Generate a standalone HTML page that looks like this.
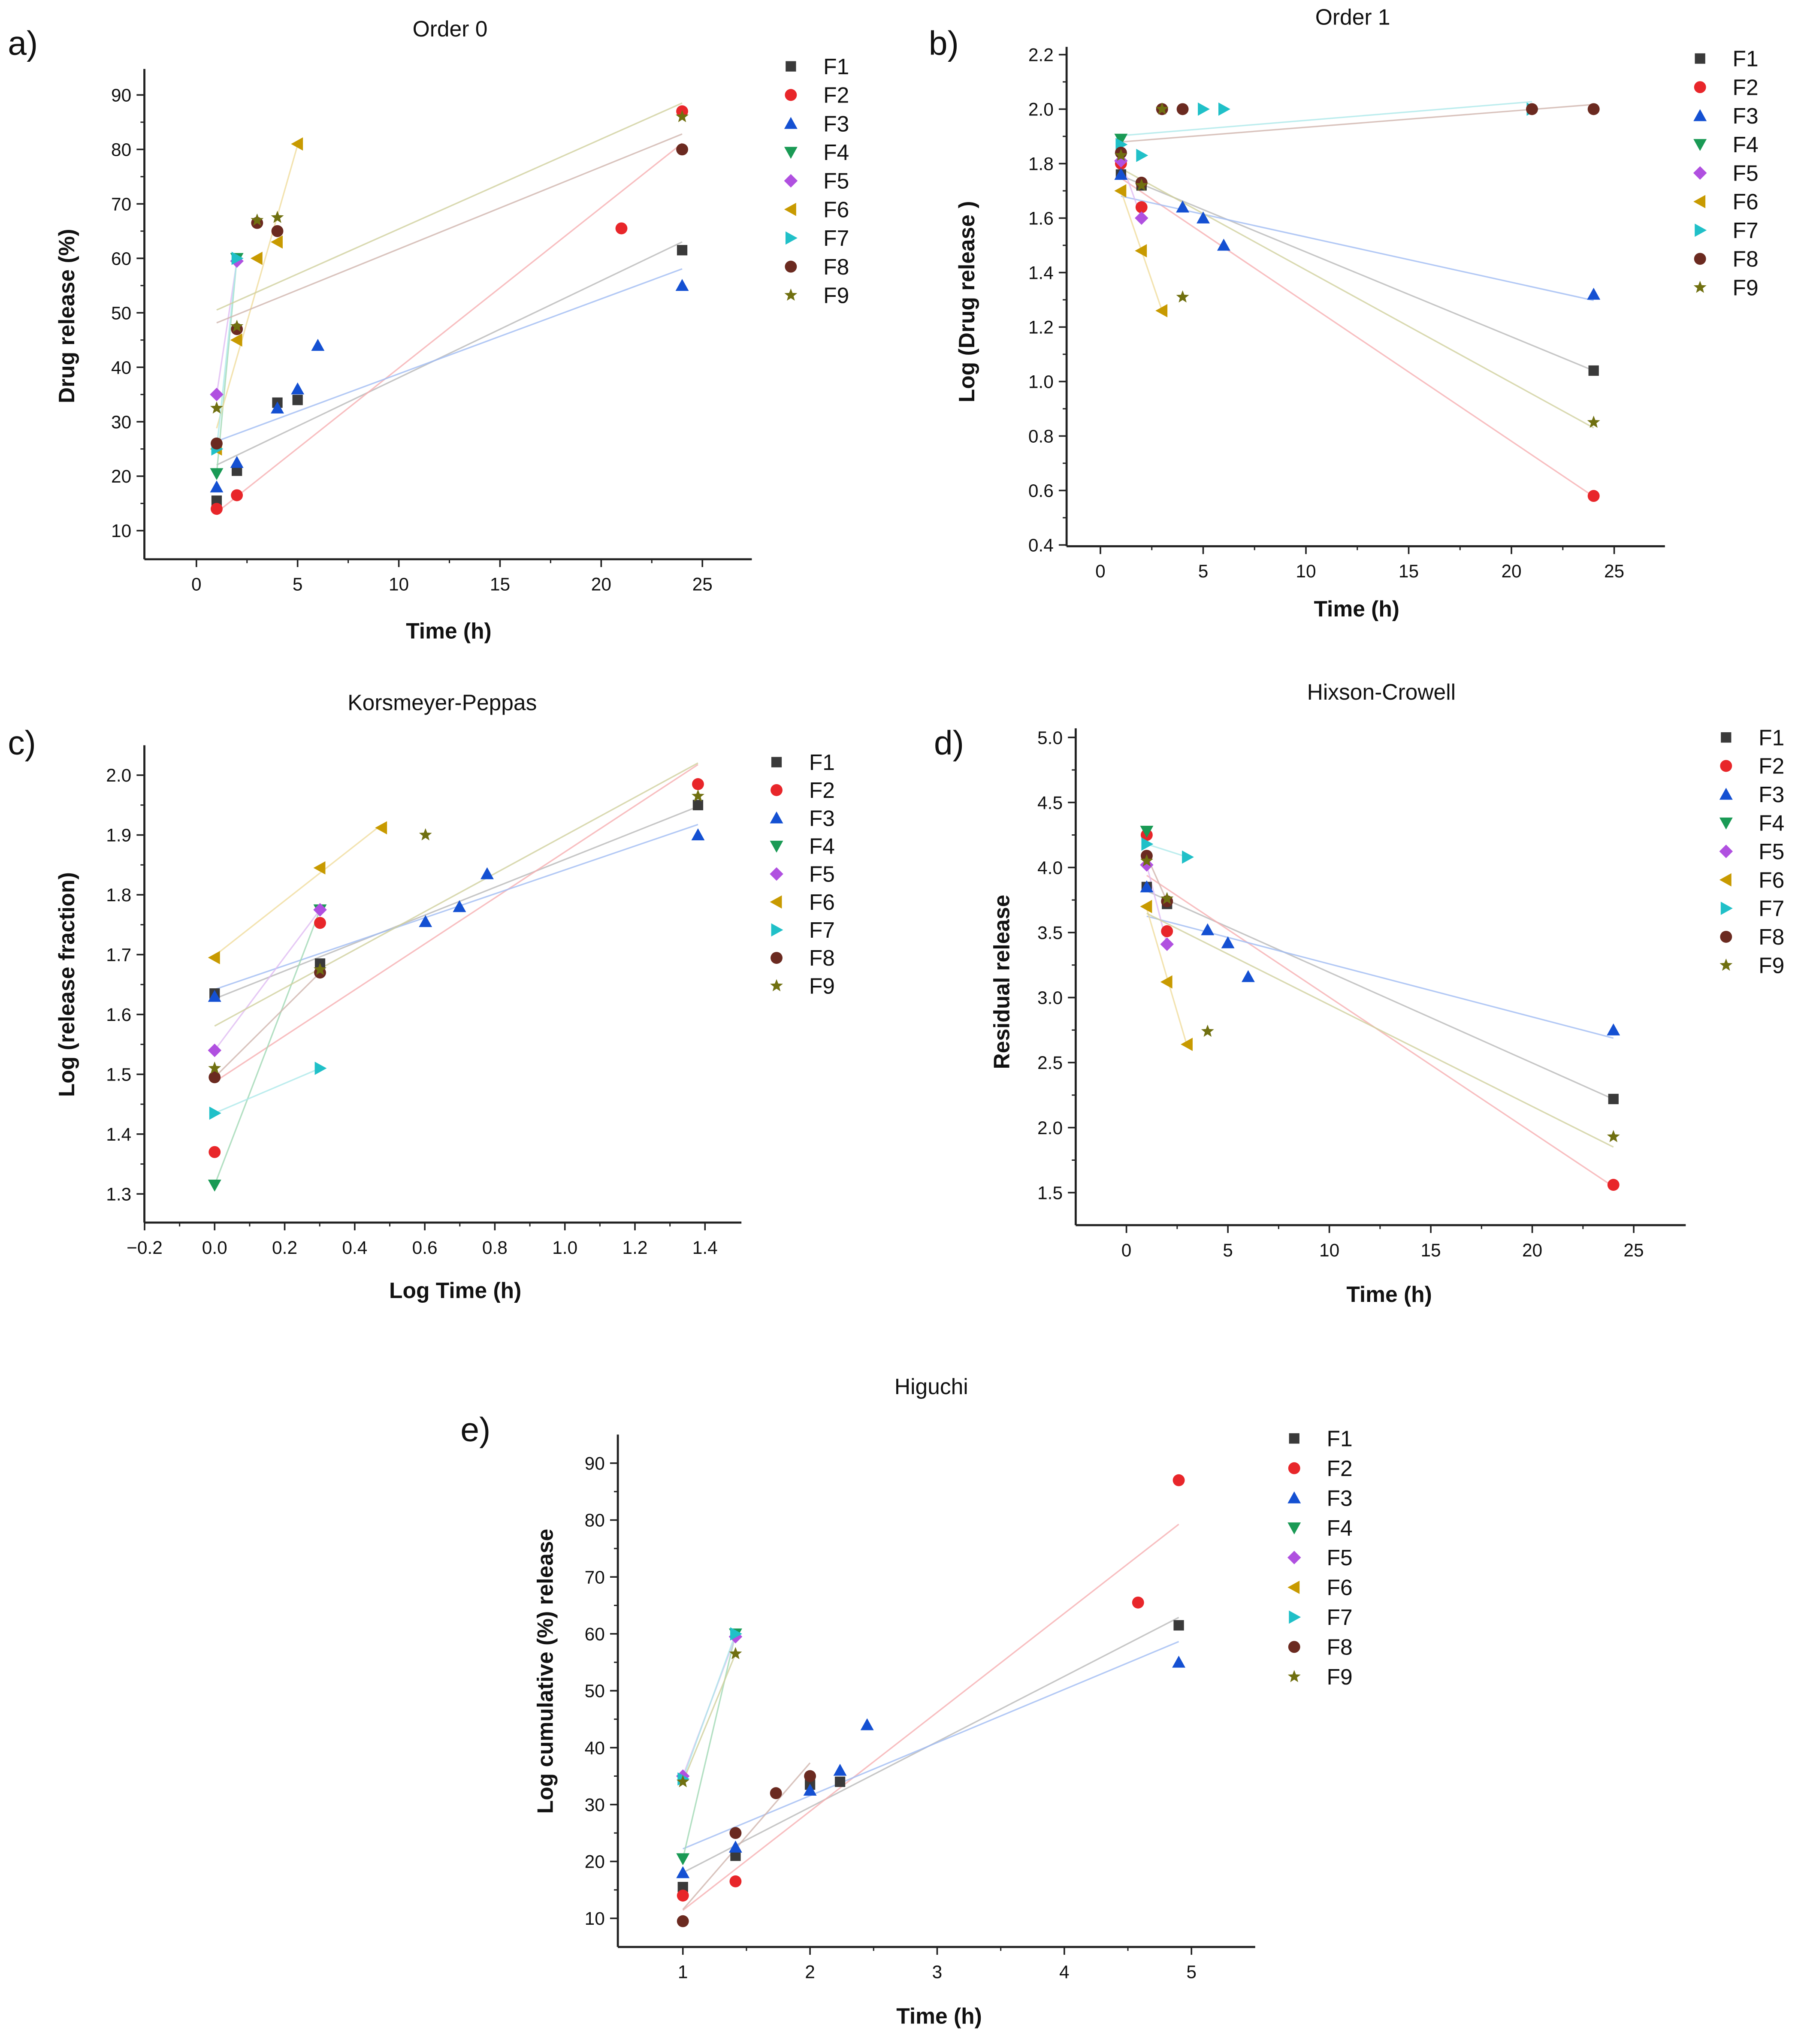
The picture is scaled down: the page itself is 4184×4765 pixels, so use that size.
<!DOCTYPE html>
<html><head><meta charset="utf-8"><style>
html,body{margin:0;padding:0;background:#fff;}
svg{display:block;font-family:"Liberation Sans",Arial,sans-serif;}
</style></head><body>
<svg id="fig" width="4184" height="4765" viewBox="0 0 1380 1571.6" xmlns="http://www.w3.org/2000/svg"></svg>
<script>
const seriesNames=["F1","F2","F3","F4","F5","F6","F7","F8","F9"];
const colors=["#3a3a3a","#e8262a","#1450d2","#1a9a55","#b050e0","#c89a00","#20c0c8","#6b2a20","#707010"];
const lineColors=["#b8b8b8","#f6aeb0","#a0bcf2","#a0d8b4","#e0bcf2","#f0dc9c","#ace8ea","#d0b4ac","#d0d09c"];
const shapes=["square","circle","up","down","diamond","left","right","circle","star"];

// Panel a: Order 0
const aData=[
[[1,15.5],[2,21],[4,33.5],[5,34],[24,61.5]],
[[1,14],[2,16.5],[21,65.5],[24,87]],
[[1,18],[2,22.5],[4,32.5],[5,36],[6,44],[24,55]],
[[1,20.5],[2,60]],
[[1,35],[2,59.5]],
[[1,25],[2,45],[3,60],[4,63],[5,81]],
[[1,25],[2,60]],
[[1,26],[2,47],[3,66.5],[4,65],[24,80]],
[[1,32.5],[2,47.5],[3,67],[4,67.5],[24,86]]];
const aXTicks=[0,5,10,15,20,25];
const aYTicks=[10,20,30,40,50,60,70,80,90];
// Panel b: Order 1
const bData=[
[[1,1.76],[2,1.72],[24,1.04]],
[[1,1.80],[2,1.64],[24,0.58]],
[[1,1.76],[4,1.64],[5,1.60],[6,1.50],[24,1.32]],
[[1,1.89]],
[[1,1.81],[2,1.60]],
[[1,1.70],[2,1.48],[3,1.26]],
[[1,1.87],[2,1.83],[5,2.0],[6,2.0],[21,2.0]],
[[1,1.84],[2,1.73],[3,2.0],[4,2.0],[21,2.0],[24,2.0]],
[[1,1.83],[2,1.72],[3,2.0],[4,1.31],[24,0.85]]];
const bXTicks=[0,5,10,15,20,25];
const bYTicks=[0.4,0.6,0.8,1.0,1.2,1.4,1.6,1.8,2.0,2.2];
// Panel c: Korsmeyer-Peppas
const cData=[
[[0,1.635],[0.301,1.685],[1.38,1.95]],
[[0,1.37],[0.301,1.753],[1.38,1.985]],
[[0,1.63],[0.602,1.755],[0.699,1.78],[0.778,1.835],[1.38,1.90]],
[[0,1.315],[0.301,1.775]],
[[0,1.54],[0.301,1.775]],
[[0,1.695],[0.301,1.845],[0.477,1.912]],
[[0,1.435],[0.301,1.51]],
[[0,1.495],[0.301,1.67]],
[[0,1.51],[0.301,1.675],[0.602,1.90],[1.38,1.965]]];
const cXTicks=[-0.2,0,0.2,0.4,0.6,0.8,1.0,1.2,1.4];
const cYTicks=[1.3,1.4,1.5,1.6,1.7,1.8,1.9,2.0];
// Panel d: Hixson-Crowell
const dData=[
[[1,3.85],[2,3.72],[24,2.22]],
[[1,4.25],[2,3.51],[24,1.56]],
[[1,3.85],[4,3.52],[5,3.42],[6,3.16],[24,2.75]],
[[1,4.28]],
[[1,4.02],[2,3.41]],
[[1,3.70],[2,3.12],[3,2.64]],
[[1,4.18],[3,4.08]],
[[1,4.09],[2,3.74]],
[[1,4.05],[2,3.76],[4,2.74],[24,1.93]]];
const dXTicks=[0,5,10,15,20,25];
const dYTicks=[1.5,2.0,2.5,3.0,3.5,4.0,4.5,5.0];
// Panel e: Higuchi
const eData=[
[[1,15.5],[1.414,21],[2,33.5],[2.236,34],[4.9,61.5]],
[[1,14],[1.414,16.5],[4.58,65.5],[4.9,87]],
[[1,18],[1.414,22.5],[2,32.5],[2.236,36],[2.449,44],[4.9,55]],
[[1,20.5],[1.414,60]],
[[1,35],[1.414,59.5]],
[],
[[1,34.5],[1.414,60]],
[[1,9.5],[1.414,25],[1.732,32],[2,35]],
[[1,34],[1.414,56.5]]];
const eXTicks=[1,2,3,4,5];
const eYTicks=[10,20,30,40,50,60,70,80,90];

const NS="http://www.w3.org/2000/svg";
const svg=document.getElementById('fig');
function mk(tag,attrs,parent){const e=document.createElementNS(NS,tag);for(const k in attrs)e.setAttribute(k,attrs[k]);(parent||svg).appendChild(e);return e;}
function txt(s,x,y,size,opts,parent){const t=mk('text',Object.assign({x:x,y:y,'font-size':size,fill:'#111'},opts||{}),parent);t.textContent=s;return t;}
function marker(shape,x,y,c,parent){
  const r=4.6;let e;
  if(shape==='square')e=mk('rect',{x:x-r+0.6,y:y-r+0.6,width:2*r-1.2,height:2*r-1.2,fill:c},parent);
  else if(shape==='circle')e=mk('circle',{cx:x,cy:y,r:r,fill:c},parent);
  else{let p;
    if(shape==='up')p=[[x,y-r-0.5],[x+r+0.5,y+r-0.5],[x-r-0.5,y+r-0.5]];
    else if(shape==='down')p=[[x,y+r+0.5],[x+r+0.5,y-r+0.5],[x-r-0.5,y-r+0.5]];
    else if(shape==='left')p=[[x-r-0.5,y],[x+r-0.5,y-r-0.5],[x+r-0.5,y+r+0.5]];
    else if(shape==='right')p=[[x+r+0.5,y],[x-r+0.5,y-r-0.5],[x-r+0.5,y+r+0.5]];
    else if(shape==='diamond')p=[[x,y-r-0.6],[x+r+0.6,y],[x,y+r+0.6],[x-r-0.6,y]];
    else {p=[];for(let i=0;i<10;i++){const a=-Math.PI/2+i*Math.PI/5;const rr=i%2?2.2:r+0.6;p.push([x+rr*Math.cos(a),y+rr*Math.sin(a)]);}}
    e=mk('polygon',{points:p.map(q=>q.join(',')).join(' '),fill:c},parent);}
  return e;
}
function fmt(v,dec){return v<0?'\u2212'+Math.abs(v).toFixed(dec):v.toFixed(dec);}
function panel(o){
  const g=mk('g',{});
  
  
  const X=v=>o.x0+(v-o.xv0)*(o.x1-o.x0)/(o.xv1-o.xv0);
  const Y=v=>o.y0+(v-o.yv0)*(o.y1-o.y0)/(o.yv1-o.yv0);
  const ax=mk('line',{x1:o.ax,y1:o.ay,x2:o.axEnd,y2:o.ay,stroke:'#222','stroke-width':1.6},g);
  
  const ay=mk('line',{x1:o.ax,y1:o.ay,x2:o.ax,y2:o.ayTop,stroke:'#222','stroke-width':1.6},g);
  
  o.xt.forEach((v,i)=>{const px=X(v);mk('line',{x1:px,y1:o.ay,x2:px,y2:o.ay+6,stroke:'#222','stroke-width':1.2},g);
    if(i<o.xt.length-1){const m=X((v+o.xt[i+1])/2);mk('line',{x1:m,y1:o.ay,x2:m,y2:o.ay+3,stroke:'#222','stroke-width':1},g);}
    const t=txt(fmt(v,o.xdec),px,o.ay+24,14,{'text-anchor':'middle'},g);});
  o.yt.forEach((v,i)=>{const py=Y(v);mk('line',{x1:o.ax,y1:py,x2:o.ax-6,y2:py,stroke:'#222','stroke-width':1.2},g);
    if(i<o.yt.length-1){const m=Y((v+o.yt[i+1])/2);mk('line',{x1:o.ax,y1:m,x2:o.ax-3,y2:m,stroke:'#222','stroke-width':1},g);}
    const t=txt(fmt(v,o.ydec),o.ax-10,py+5,14,{'text-anchor':'end'},g);});
  o.data.forEach((pts,si)=>{if(pts.length<2)return;
    const n=pts.length;let sx=0,sy=0,sxx=0,sxy=0;pts.forEach(p=>{sx+=p[0];sy+=p[1];sxx+=p[0]*p[0];sxy+=p[0]*p[1];});
    const b=(n*sxy-sx*sy)/(n*sxx-sx*sx),a=(sy-b*sx)/n;
    const xmin=Math.min(...pts.map(p=>p[0])),xmax=Math.max(...pts.map(p=>p[0]));
    const l=mk('line',{x1:X(xmin),y1:Y(a+b*xmin),x2:X(xmax),y2:Y(a+b*xmax),stroke:lineColors[si],'stroke-width':1.1,'stroke-opacity':0.8},g);
    });
  o.data.forEach((pts,si)=>{pts.forEach(p=>{const m=marker(shapes[si],X(p[0]),Y(p[1]),colors[si],g);
    });});
  const tt=txt(o.title,o.tx,o.ty,17,{'text-anchor':'middle'},g);
  const pl=txt(o.letter,o.lx,o.ly,26,{},g);
  const xl=txt(o.xlab,o.xlx,o.xly,17,{'text-anchor':'middle','font-weight':'bold'},g);
  const yl=txt(o.ylab,0,0,17,{'text-anchor':'middle','font-weight':'bold',transform:'translate('+o.ylx+','+o.yly+') rotate(-90)'},g);
  seriesNames.forEach((s,i)=>{const y=o.legY+i*o.legStep;
    const lg=mk('g',{},g);
    marker(shapes[i],o.legX,y,colors[i],lg);txt(s,o.legX+25,y+6,17,{},lg);});
}
panel({name:'order-0-chart',data:aData,xt:aXTicks,yt:aYTicks,xdec:0,ydec:0,x0:151,x1:540,xv0:0,xv1:25,y0:408,y1:73,yv0:10,yv1:90,
 ax:111,ay:430,axEnd:578,ayTop:53,title:'Order 0',tx:346,ty:28,letter:'a)',lx:6,ly:42,xlab:'Time (h)',xlx:345,xly:491,ylab:'Drug release (%)',ylx:57,yly:243,legX:608,legY:51,legStep:22});
panel({name:'order-1-chart',data:bData,xt:bXTicks,yt:bYTicks,xdec:0,ydec:1,x0:846,x1:1241,xv0:0,xv1:25,y0:419,y1:42,yv0:0.4,yv1:2.2,
 ax:820,ay:420,axEnd:1280,ayTop:36,title:'Order 1',tx:1040,ty:19,letter:'b)',lx:714,ly:42,xlab:'Time (h)',xlx:1043,xly:474,ylab:'Log (Drug release )',ylx:749,yly:232,legX:1307,legY:45,legStep:22});
panel({name:'korsmeyer-peppas-chart',data:cData,xt:cXTicks,yt:cYTicks,xdec:1,ydec:1,x0:165,x1:542,xv0:0,xv1:1.4,y0:918,y1:596,yv0:1.3,yv1:2.0,
 ax:111,ay:940,axEnd:570,ayTop:573,title:'Korsmeyer-Peppas',tx:340,ty:546,letter:'c)',lx:6,ly:580,xlab:'Log Time (h)',xlx:350,xly:998,ylab:'Log (release fraction)',ylx:57,yly:757,legX:597,legY:586,legStep:21.5});
panel({name:'hixson-crowell-chart',data:dData,xt:dXTicks,yt:dYTicks,xdec:0,ydec:1,x0:866,x1:1256,xv0:0,xv1:25,y0:917,y1:567,yv0:1.5,yv1:5.0,
 ax:827,ay:942,axEnd:1296,ayTop:560,title:'Hixson-Crowell',tx:1062,ty:538,letter:'d)',lx:718,ly:580,xlab:'Time (h)',xlx:1068,xly:1001,ylab:'Residual release',ylx:776,yly:755,legX:1327,legY:567,legStep:21.9});
panel({name:'higuchi-chart',data:eData,xt:eXTicks,yt:eYTicks,xdec:0,ydec:0,x0:525,x1:916,xv0:1,xv1:5,y0:1475,y1:1125,yv0:10,yv1:90,
 ax:475,ay:1497,axEnd:965,ayTop:1103,title:'Higuchi',tx:716,ty:1072,letter:'e)',lx:354,ly:1108,xlab:'Time (h)',xlx:722,xly:1556,ylab:'Log cumulative (%) release',ylx:425,yly:1285,legX:995,legY:1106,legStep:22.9});
</script>
</body></html>
